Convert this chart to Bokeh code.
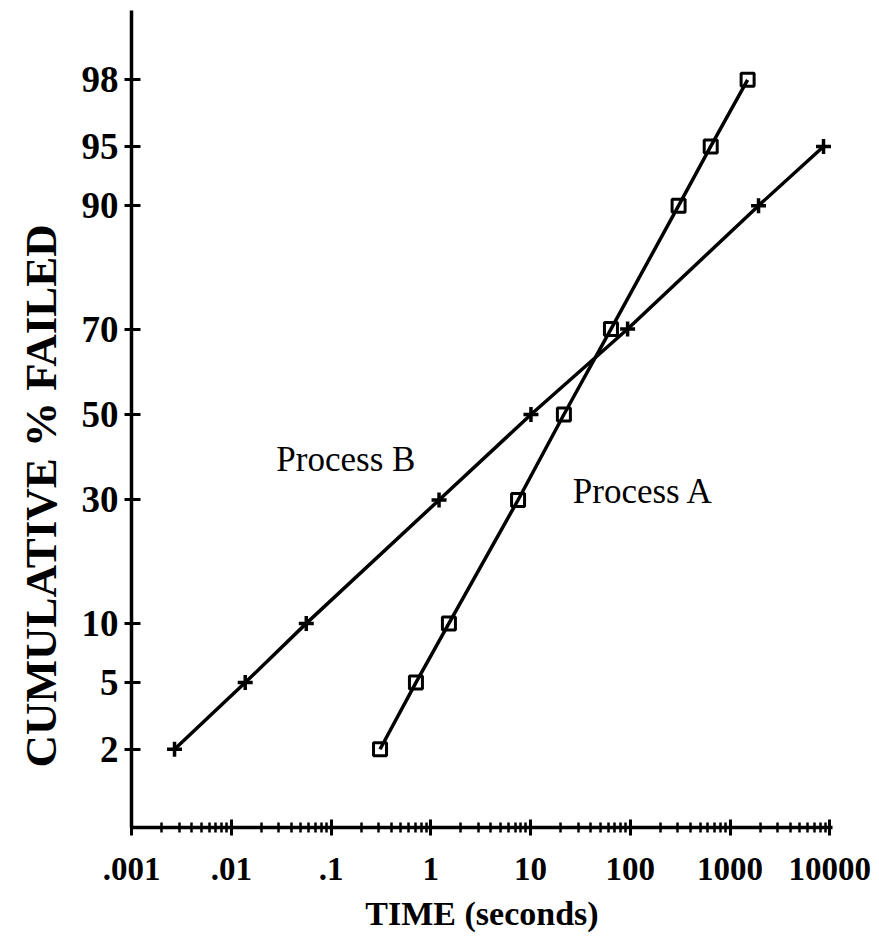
import math
from bokeh.plotting import figure
from bokeh.models import FixedTicker, Range1d, Label, Title
from bokeh.embed import file_html
from bokeh.resources import INLINE

# ---- data ----
pct_a = [2, 5, 10, 30, 50, 70, 90, 95, 98]
time_a = [0.31, 0.71, 1.52, 7.5, 21.6, 64, 305, 640, 1500]

pct_b = [2, 5, 10, 30, 50, 70, 90, 95]
time_b = [0.0027, 0.0138, 0.0565, 1.21, 10.1, 94, 1930, 8650]

y_tick_pcts = [2, 5, 10, 30, 50, 70, 90, 95, 98]
x_ticks = [0.001, 0.01, 0.1, 1, 10, 100, 1000, 10000]
x_tick_labels = [".001", ".01", ".1", "1", "10", "100", "1000", "10000"]


def probit(p):
    lo, hi = -10.0, 10.0
    for _ in range(200):
        mid = (lo + hi) / 2
        if 0.5 * (1 + math.erf(mid / math.sqrt(2))) < p:
            lo = mid
        else:
            hi = mid
    return round((lo + hi) / 2, 6)


za = [probit(v / 100) for v in pct_a]
zb = [probit(v / 100) for v in pct_b]
y_ticks = [probit(v / 100) for v in y_tick_pcts]

FONT = "Liberation Serif"

p = figure(width=871, height=936, x_axis_type="log",
           x_range=Range1d(0.001, 10 ** 4.027), y_range=Range1d(-2.534, 2.479),
           output_backend="svg", toolbar_location=None,
           min_border_left=130, min_border_right=39, min_border_top=10,
           min_border_bottom=109)
p.outline_line_color = None
p.grid.grid_line_color = None
p.background_fill_color = "white"
p.border_fill_color = "white"

# x axis
p.xaxis.ticker = FixedTicker(ticks=x_ticks,
                             minor_ticks=[m * t for t in x_ticks[:-1] for m in range(2, 10)])
p.xaxis.major_label_overrides = {t: l for t, l in zip(x_ticks, x_tick_labels)}
p.xaxis.axis_label = "TIME (seconds)"
p.xaxis.axis_label_text_font = FONT
p.xaxis.axis_label_text_font_style = "bold"
p.xaxis.axis_label_text_font_size = "34px"
p.xaxis.axis_label_text_color = "black"
p.xaxis.axis_label_standoff = 12
p.xaxis.major_label_text_font = FONT
p.xaxis.major_label_text_font_style = "bold"
p.xaxis.major_label_text_font_size = "33px"
p.xaxis.major_label_text_color = "black"
p.xaxis.major_label_standoff = 22
p.xaxis.major_tick_in = 8
p.xaxis.major_tick_out = 8
p.xaxis.minor_tick_in = 5
p.xaxis.minor_tick_out = 5
p.xaxis.major_tick_line_width = 3
p.xaxis.minor_tick_line_width = 2.5

# y axis
p.yaxis.ticker = FixedTicker(ticks=y_ticks, minor_ticks=[])
p.yaxis.major_label_overrides = {t: str(v) for t, v in zip(y_ticks, y_tick_pcts)}
p.yaxis.major_label_text_font = FONT
p.yaxis.major_label_text_font_style = "bold"
p.yaxis.major_label_text_font_size = "37px"
p.yaxis.major_label_text_color = "black"
p.yaxis.major_label_standoff = 6
p.yaxis.major_tick_in = 9
p.yaxis.major_tick_out = 7
p.yaxis.major_tick_line_width = 3

for ax in (p.xaxis, p.yaxis):
    ax.axis_line_width = 3.5
    ax.axis_line_color = "black"
    ax.major_tick_line_color = "black"
    ax.minor_tick_line_color = "black"

# y title as a left-side Title so it can sit below centre like the original
ytitle = Title(text="CUMULATIVE % FAILED", align="left", offset=60,
               text_font=FONT, text_font_style="bold", text_font_size="45px",
               text_color="black", standoff=26)
p.add_layout(ytitle, "left")

# series
p.line(time_b, zb, line_color="black", line_width=3.5)
p.scatter(time_b, zb, marker="cross", size=15, line_color="black", line_width=3.5)

p.line(time_a, za, line_color="black", line_width=3.5)
p.scatter(time_a, za, marker="square", size=13, line_color="black", line_width=3,
          fill_color=None)

# annotations
p.add_layout(Label(x=0.0283, y=-0.276, text="Process B", text_font=FONT,
                   text_font_size="35px", text_baseline="middle", text_align="left",
                   text_color="black"))
p.add_layout(Label(x=26.5, y=-0.472, text="Process A", text_font=FONT,
                   text_font_size="35px", text_baseline="middle", text_align="left",
                   text_color="black"))

open("out.html", "w").write(file_html(p, INLINE))
